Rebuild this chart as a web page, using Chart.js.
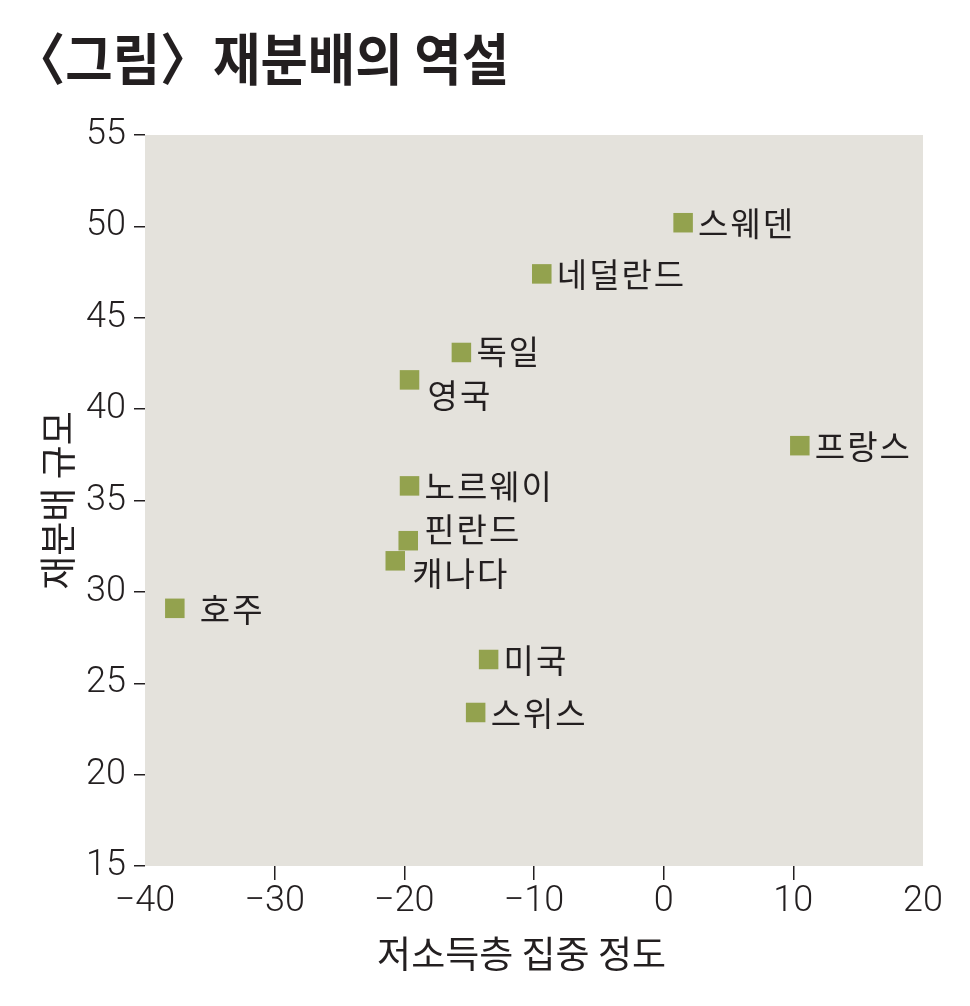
<!DOCTYPE html>
<html>
<head>
<meta charset="utf-8">
<script src="https://cdn.jsdelivr.net/npm/chart.js@4"></script>
<style>
    body { margin: 0; background: #fff; }
    #wrap { position: relative; width: 970px; height: 1006px; }
    #title {
        position: absolute; left: 38px; top: 15px;
        font-family: "Noto Sans CJK KR", sans-serif; font-weight: 700;
        font-size: 56px; color: #231f20; white-space: nowrap;
        transform: scaleX(0.92); transform-origin: left top;
    }
    #title .lb { margin-left: -0.47em; }
    #title .rb { margin-right: -0.2em; }
</style>
</head>
<body>
<div id="wrap">
    <div id="title"><span class="lb">〈</span>그림<span class="rb">〉</span> 재분배의 역설</div>
    <canvas id="scatterChart" width="970" height="1006"></canvas>
</div>
<script>
// 국가별 값
var countries   = ['스웨덴', '네덜란드', '독일', '영국', '프랑스', '노르웨이', '핀란드', '캐나다', '호주', '미국', '스위스'];
var lowIncome   = [1.5, -9.4, -15.6, -19.6, 10.5, -19.6, -19.7, -20.7, -37.7, -13.5, -14.5];
var redistSize  = [50.2, 47.4, 43.1, 41.6, 38.0, 35.8, 32.8, 31.7, 29.1, 26.3, 23.4];
var xTicks      = [-40, -30, -20, -10, 0, 10, 20];
var yTicks      = [15, 20, 25, 30, 35, 40, 45, 50, 55];

// 라벨 위치 (점 기준 오프셋)
var labelShift = {
    '영국'  : [18, 16],
    '핀란드': [16, -11],
    '캐나다': [17, 13],
    '호주'  : [25, 1],
    '독일'  : [15, -1]
};

var points = [];
for (var i = 0; i < countries.length; i++) {
    points.push({ x: lowIncome[i], y: redistSize[i], name: countries[i] });
}

var bgPlugin = {
    id: 'plotBg',
    beforeDraw: function(chart) {
        var a = chart.chartArea, c = chart.ctx;
        c.save();
        c.fillStyle = '#e4e2dc';
        c.fillRect(a.left, a.top, a.right - a.left, a.bottom - a.top);
        c.restore();
    }
};

var labelPlugin = {
    id: 'pointNames',
    afterDatasetsDraw: function(chart) {
        var c = chart.ctx;
        var meta = chart.getDatasetMeta(0);
        c.save();
        c.font = '400 33px "Noto Sans CJK KR", sans-serif';
        c.letterSpacing = '2px';
        c.fillStyle = '#231f20';
        c.textBaseline = 'middle';
        c.textAlign = 'left';
        meta.data.forEach(function(el, i) {
            var s = labelShift[countries[i]] || [15, 1];
            c.fillText(countries[i], el.x + s[0], el.y + s[1]);
        });
        c.restore();
    }
};

var tickFont = { family: 'Roboto, Liberation Sans, sans-serif', size: 36, weight: 300 };
var titleFont = { family: '"Noto Sans CJK KR", sans-serif', size: 37 };

var ctx = document.getElementById('scatterChart').getContext('2d');
var scatterChart = new Chart(ctx, {
    type: 'scatter',
    data: {
        datasets: [{
            label: '재분배의 역설',
            data: points,
            pointStyle: 'rect',
            pointRadius: 13.8,
            pointHoverRadius: 13.8,
            backgroundColor: '#93a24e',
            borderWidth: 0
        }]
    },
    options: {
        responsive: false,
        animation: false,
        events: [],
        layout: { padding: { top: 135, right: 47, left: 36, bottom: 30 } },
        plugins: {
            legend: { display: false },
            tooltip: { enabled: false }
        },
        scales: {
            x: {
                type: 'linear',
                min: -40,
                max: 20,
                afterBuildTicks: function(scale) {
                    scale.ticks = xTicks.map(function(v) { return { value: v }; });
                },
                afterFit: function(scale) { scale.height = 110; },
                border: { display: false },
                grid: {
                    drawOnChartArea: false,
                    drawTicks: true,
                    tickLength: 14,
                    lineWidth: 1.5,
                    color: function(c) {
                        if (c.tick && (c.tick.value === -40 || c.tick.value === 20)) return 'rgba(0,0,0,0)';
                        return '#231f20';
                    }
                },
                ticks: {
                    color: '#231f20',
                    font: tickFont,
                    padding: 0,
                    maxRotation: 0,
                    callback: function(v) { return String(v).replace('-', '\u2212'); }
                },
                title: {
                    display: true,
                    text: '저소득층 집중 정도   ',
                    color: '#231f20',
                    font: titleFont,
                    padding: { top: 0, bottom: 0 }
                }
            },
            y: {
                type: 'linear',
                min: 15,
                max: 55,
                afterBuildTicks: function(scale) {
                    scale.ticks = yTicks.map(function(v) { return { value: v }; });
                },
                afterFit: function(scale) { scale.width = 109; },
                border: { display: false },
                grid: {
                    drawOnChartArea: false,
                    drawTicks: true,
                    tickLength: 11,
                    lineWidth: 1.5,
                    color: '#231f20'
                },
                ticks: {
                    color: '#231f20',
                    font: tickFont,
                    padding: 8
                },
                title: {
                    display: true,
                    text: '재분배 규모',
                    color: '#231f20',
                    font: titleFont,
                    padding: { top: 0, bottom: 0 }
                }
            }
        }
    },
    plugins: [bgPlugin, labelPlugin]
});
</script>
</body>
</html>
